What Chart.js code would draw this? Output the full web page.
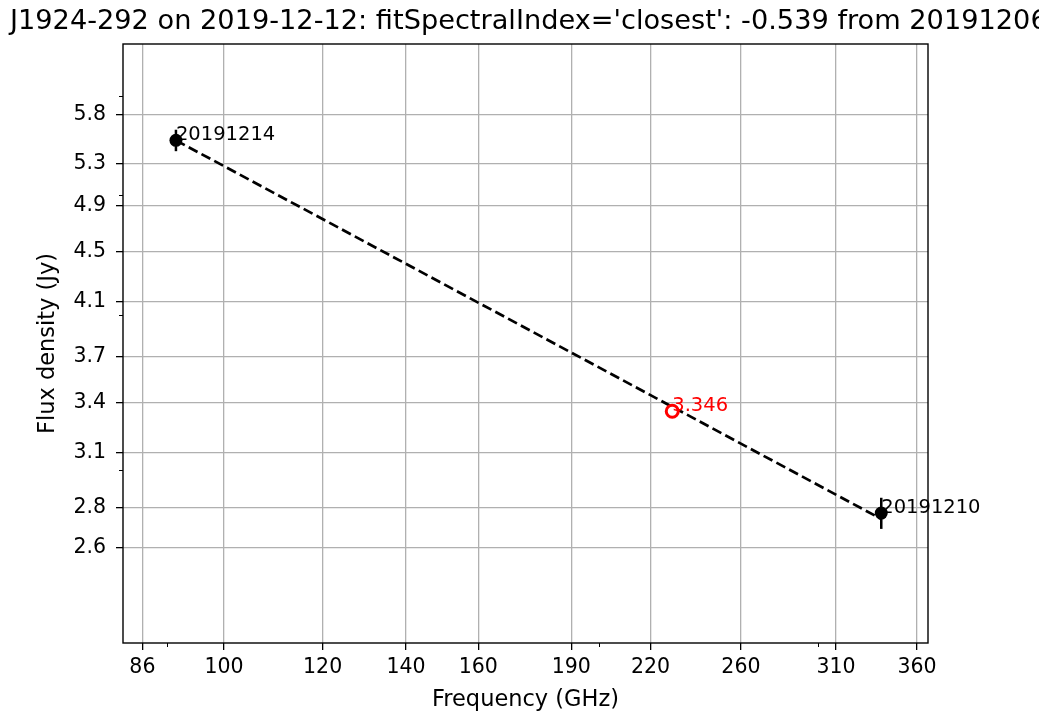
<!DOCTYPE html>
<html>
<head>
<meta charset="utf-8">
<script src="https://cdn.jsdelivr.net/npm/chart.js@4.4.1/dist/chart.umd.min.js"></script>
<style>
    html, body { margin: 0; padding: 0; background: #fff; }
    canvas { display: block; }
</style>
</head>
<body>
<canvas id="fluxChart" width="1039" height="715"></canvas>
<script>
// Values
const titleText = "J1924-292 on 2019-12-12: fitSpectralIndex='closest': -0.539 from 20191206";

const measFreq = [91.5, 337.0];
const measFlux = [5.53, 2.77];
const measErr = [0.11, 0.08];
const measLabels = ['20191214', '20191210'];

const fitFreq = [91.5, 337.0];
const fitFlux = [5.53, 2.74];

const predFreq = [229.0];
const predFlux = [3.346];
const predLabels = ['3.346'];

const xTicks = [86, 100, 120, 140, 160, 190, 220, 260, 310, 360];
const yTicks = [2.6, 2.8, 3.1, 3.4, 3.7, 4.1, 4.5, 4.9, 5.3, 5.8];
const xMinor = [90, 200, 300];
const yMinor = [3, 4, 5, 6];

const FONT = 'DejaVu Sans';

// Error bars, text labels, minor ticks, full frame and the wide title
const extras = {
    id: 'extras',
    beforeDatasetsDraw(chart) {
        const { ctx, scales: { x, y } } = chart;
        ctx.save();
        ctx.strokeStyle = '#000';
        ctx.lineWidth = 2.5;
        measFreq.forEach((f, i) => {
            const px = x.getPixelForValue(f);
            ctx.beginPath();
            ctx.moveTo(px, y.getPixelForValue(measFlux[i] + measErr[i]));
            ctx.lineTo(px, y.getPixelForValue(measFlux[i] - measErr[i]));
            ctx.stroke();
        });
        ctx.restore();
    },
    afterDatasetsDraw(chart) {
        const { ctx, scales: { x, y } } = chart;
        ctx.save();
        ctx.font = '19.5px "' + FONT + '"';
        ctx.textAlign = 'left';
        ctx.textBaseline = 'alphabetic';
        ctx.fillStyle = '#000';
        measFreq.forEach((f, i) => {
            ctx.fillText(measLabels[i], x.getPixelForValue(f), y.getPixelForValue(measFlux[i]));
        });
        ctx.fillStyle = '#ff0000';
        predFreq.forEach((f, i) => {
            ctx.fillText(predLabels[i], x.getPixelForValue(f), y.getPixelForValue(predFlux[i]));
        });
        ctx.restore();
    },
    afterDraw(chart) {
        const { ctx, chartArea: a, scales: { x, y } } = chart;
        ctx.save();
        // minor ticks
        ctx.strokeStyle = '#000';
        ctx.lineWidth = 1;
        xMinor.forEach(v => {
            const px = Math.round(x.getPixelForValue(v)) + 0.5;
            ctx.beginPath();
            ctx.moveTo(px, a.bottom);
            ctx.lineTo(px, a.bottom + 4);
            ctx.stroke();
        });
        yMinor.forEach(v => {
            const py = Math.round(y.getPixelForValue(v)) + 0.5;
            ctx.beginPath();
            ctx.moveTo(a.left, py);
            ctx.lineTo(a.left - 4, py);
            ctx.stroke();
        });
        // frame
        ctx.lineWidth = 1.4;
        ctx.strokeRect(a.left, a.top, a.right - a.left, a.bottom - a.top);
        // title (wider than the figure, clipped on the right like the original)
        ctx.fillStyle = '#000';
        ctx.font = '27.2px "' + FONT + '"';
        ctx.textAlign = 'left';
        ctx.textBaseline = 'alphabetic';
        ctx.fillText(titleText, 10, 29);
        ctx.restore();
    }
};

const gridOpts = {
    color: '#b0b0b0',
    lineWidth: 1.3,
    tickColor: '#000',
    tickLength: 7,
    tickWidth: 1.3
};

const ctx = document.getElementById('fluxChart').getContext('2d');

new Chart(ctx, {
    type: 'scatter',
    data: {
        datasets: [
            {
                label: 'fit',
                data: fitFreq.map((f, i) => ({ x: f, y: fitFlux[i] })),
                showLine: true,
                borderColor: '#000',
                borderWidth: 2.7,
                borderDash: [10, 4.5],
                pointRadius: 0,
                order: 3
            },
            {
                label: 'predicted',
                data: predFreq.map((f, i) => ({ x: f, y: predFlux[i] })),
                pointRadius: 6,
                pointBorderWidth: 3,
                pointBorderColor: '#ff0000',
                pointBackgroundColor: '#fff',
                order: 2
            },
            {
                label: 'measured',
                data: measFreq.map((f, i) => ({ x: f, y: measFlux[i] })),
                pointRadius: 6.5,
                pointBorderWidth: 0,
                pointBackgroundColor: '#000',
                pointBorderColor: '#000',
                order: 1
            }
        ]
    },
    options: {
        responsive: false,
        animation: false,
        layout: {
            padding: { top: 44, right: 111, bottom: 0, left: 0 }
        },
        plugins: {
            legend: { display: false },
            tooltip: { enabled: false }
        },
        scales: {
            x: {
                type: 'logarithmic',
                min: 82.97,
                max: 367.4,
                afterBuildTicks: scale => { scale.ticks = xTicks.map(v => ({ value: v })); },
                afterFit: scale => { scale.height = 72; },
                grid: gridOpts,
                border: { display: false },
                ticks: {
                    color: '#000',
                    font: { family: FONT, size: 20.5 },
                    padding: 5,
                    maxRotation: 0,
                    autoSkip: false,
                    callback: v => String(v)
                },
                title: {
                    display: true,
                    text: 'Frequency (GHz)',
                    color: '#000',
                    font: { family: FONT, size: 22.5 },
                    padding: { top: 0, bottom: 1 }
                }
            },
            y: {
                type: 'logarithmic',
                min: 2.177,
                max: 6.612,
                afterBuildTicks: scale => { scale.ticks = yTicks.map(v => ({ value: v })); },
                afterFit: scale => { scale.width = 123; },
                grid: gridOpts,
                border: { display: false },
                ticks: {
                    color: '#000',
                    font: { family: FONT, size: 20.5 },
                    padding: 10,
                    autoSkip: false,
                    callback: v => String(v)
                },
                title: {
                    display: true,
                    text: 'Flux density (Jy)',
                    color: '#000',
                    font: { family: FONT, size: 22.5 },
                    padding: { top: 35, bottom: 0 }
                }
            }
        }
    },
    plugins: [extras]
});
</script>
</body>
</html>
